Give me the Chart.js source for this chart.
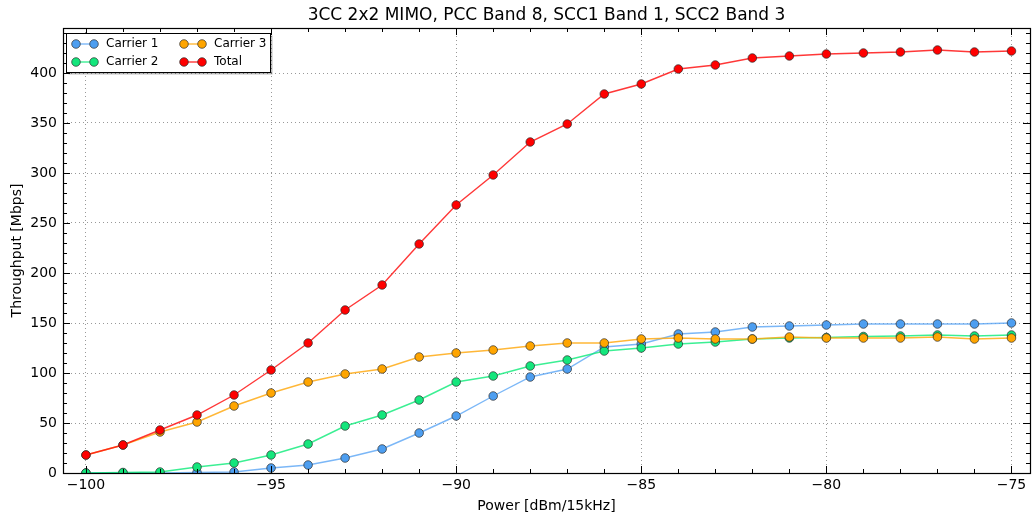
<!DOCTYPE html>
<html lang="en">
<head>
  <meta charset="UTF-8"/>
  <title>3CC 2x2 MIMO throughput</title>
  <script src="https://cdn.jsdelivr.net/npm/chart.js@4.4.1/dist/chart.umd.min.js"></script>
  <style>
    html, body { margin: 0; padding: 0; background: #fff; }
    #wrap { width: 1032px; height: 519px; }
  </style>
</head>
<body>
  <div id="wrap"><canvas id="chart" width="1032" height="519"></canvas></div>
  <script>
    // power axis (dBm/15kHz)
    const power = [-100, -99, -98, -97, -96, -95, -94, -93, -92, -91, -90, -89, -88,
                   -87, -86, -85, -84, -83, -82, -81, -80, -79, -78, -77, -76, -75];

    // throughput values in Mbps
    const carrier1 = [0, 0, 0, 0.5, 1, 5, 8, 15, 24, 40, 57, 77, 96,
                      104, 126, 129, 139, 141, 146, 147, 148, 149, 149, 149, 149, 150];
    const carrier2 = [0, 0.5, 1, 6, 10, 18, 29, 47, 58, 73, 91, 97, 107,
                      113, 122, 125, 129, 131, 134, 135, 135.5, 136.5, 137, 138, 137, 138];
    const carrier3 = [18, 28, 41, 51, 67, 80, 91, 99, 104, 116, 120, 123, 127,
                      130, 130, 134, 135, 134, 134, 136, 135, 135, 135, 136, 134, 135];
    const total = [18, 28, 43, 58, 78, 103, 130, 163, 188, 229, 268, 298, 331,
                   349, 379, 389, 404, 408, 415, 417, 419, 420, 421, 423, 421, 422];

    const xTicks = [-100, -95, -90, -85, -80, -75];
    const yTicks = [0, 50, 100, 150, 200, 250, 300, 350, 400];

    const titleText = '3CC 2x2 MIMO, PCC Band 8, SCC1 Band 1, SCC2 Band 3';
    const FONT = "'DejaVu Sans', sans-serif";

    const series = [
      { label: 'Carrier 1', data: carrier1, marker: '#4d9ef0', line: 'rgba(90,165,245,0.8)' },
      { label: 'Carrier 2', data: carrier2, marker: '#14e67c', line: 'rgba(10,235,120,0.8)' },
      { label: 'Carrier 3', data: carrier3, marker: '#ffa500', line: 'rgba(255,170,20,0.85)' },
      { label: 'Total', data: total, marker: '#ff0000', line: 'rgba(255,20,20,0.85)' }
    ];

    const datasets = series.map((s, i) => ({
      label: s.label,
      data: power.map((p, j) => ({ x: p, y: s.data[j] })),
      borderColor: s.line,
      borderWidth: 1.4,
      pointBackgroundColor: s.marker,
      pointBorderColor: 'rgba(40,40,40,0.85)',
      pointBorderWidth: 0.8,
      pointRadius: 4.3,
      tension: 0,
      order: series.length - i   // later series on top, like the original
    }));

    const frame = {
      id: 'frame',
      afterDatasetsDraw(chart) {
        const { ctx, chartArea: a, scales: { x, y } } = chart;
        ctx.save();
        ctx.strokeStyle = '#000';
        ctx.lineWidth = 1;
        // inner ticks on all four sides
        ctx.beginPath();
        for (let v = -100; v <= -75; v++) {
          const px = Math.round(x.getPixelForValue(v)) + 0.5;
          const len = v % 5 === 0 ? 7 : 4;
          ctx.moveTo(px, a.bottom); ctx.lineTo(px, a.bottom - len);
          ctx.moveTo(px, a.top); ctx.lineTo(px, a.top + len);
        }
        for (let v = 0; v <= 440; v += 10) {
          const py = Math.round(y.getPixelForValue(v)) + 0.5;
          const len = v % 50 === 0 ? 7 : 4;
          ctx.moveTo(a.left, py); ctx.lineTo(a.left + len, py);
          ctx.moveTo(a.right, py); ctx.lineTo(a.right - len, py);
        }
        ctx.stroke();
        ctx.lineWidth = 1.2;
        ctx.strokeRect(Math.round(a.left) + 0.5, Math.round(a.top) + 0.5,
                       Math.round(a.right - a.left), Math.round(a.bottom - a.top));
        ctx.restore();
      },
      afterDraw(chart) {
        const { ctx, chartArea: a } = chart;
        ctx.save();
        // title
        ctx.fillStyle = '#000';
        ctx.font = '17px ' + FONT;
        ctx.textAlign = 'center';
        ctx.textBaseline = 'middle';
        ctx.fillText(titleText, (a.left + a.right) / 2, 16);

        // legend, two columns, upper left
        const bx = 66.5, by = 33.5, bw = 204, bh = 39;
        ctx.fillStyle = 'rgba(0,0,0,0.25)';
        ctx.fillRect(bx + 2, by + 2, bw, bh);
        ctx.fillStyle = '#fff';
        ctx.fillRect(bx, by, bw, bh);
        ctx.strokeStyle = '#000';
        ctx.lineWidth = 1;
        ctx.strokeRect(bx, by, bw, bh);
        const slots = [[0, 0], [0, 1], [1, 0], [1, 1]]; // [col,row] for C1, C2, C3, Total
        ctx.font = '12px ' + FONT;
        ctx.textAlign = 'left';
        series.forEach((s, i) => {
          const cx = [70, 178][slots[i][0]];
          const cy = [44, 62][slots[i][1]];
          ctx.strokeStyle = s.line;
          ctx.lineWidth = 1.4;
          ctx.beginPath(); ctx.moveTo(cx + 6, cy); ctx.lineTo(cx + 24, cy); ctx.stroke();
          [cx + 6, cx + 24].forEach(mx => {
            ctx.beginPath();
            ctx.arc(mx, cy, 4.3, 0, Math.PI * 2);
            ctx.fillStyle = s.marker; ctx.fill();
            ctx.strokeStyle = 'rgba(40,40,40,0.85)'; ctx.lineWidth = 0.8; ctx.stroke();
          });
          ctx.fillStyle = '#000';
          ctx.fillText(s.label, cx + 36, cy);
        });
        ctx.restore();
      }
    };

    const minus = v => String(v).replace('-', '\u2212');

    new Chart(document.getElementById('chart').getContext('2d'), {
      type: 'line',
      data: { datasets },
      options: {
        responsive: false,
        animation: false,
        layout: { autoPadding: false, padding: { top: 28, right: 2, left: 0, bottom: 0 } },
        plugins: { legend: { display: false }, tooltip: { enabled: false }, title: { display: false } },
        scales: {
          x: {
            type: 'linear',
            min: -100.62,
            max: -74.5,
            afterBuildTicks: s => { s.ticks = xTicks.map(v => ({ value: v })); },
            afterFit: s => { s.height = 46; s.paddingLeft = 0; s.paddingRight = 0; },
            ticks: { color: '#000', font: { family: FONT, size: 14 }, padding: 4, callback: v => minus(v) },
            grid: { color: 'rgba(0,0,0,0.4)', lineWidth: 1, drawTicks: false },
            border: { display: false, dash: [1, 3] },
            title: { display: true, text: 'Power [dBm/15kHz]', color: '#000',
                     font: { family: FONT, size: 14 }, padding: { top: 0, bottom: 4 } }
          },
          y: {
            min: 0,
            max: 445,
            afterBuildTicks: s => { s.ticks = yTicks.map(v => ({ value: v })); },
            afterFit: s => { s.width = 63; s.paddingTop = 0; s.paddingBottom = 0; },
            ticks: { color: '#000', font: { family: FONT, size: 14 }, padding: 6 },
            grid: { color: 'rgba(0,0,0,0.4)', lineWidth: 1, drawTicks: false },
            border: { display: false, dash: [1, 3] },
            title: { display: true, text: 'Throughput [Mbps]', color: '#000',
                     font: { family: FONT, size: 14 }, padding: { top: 9, bottom: 0 } }
          }
        }
      },
      plugins: [frame]
    });
  </script>
</body>
</html>
